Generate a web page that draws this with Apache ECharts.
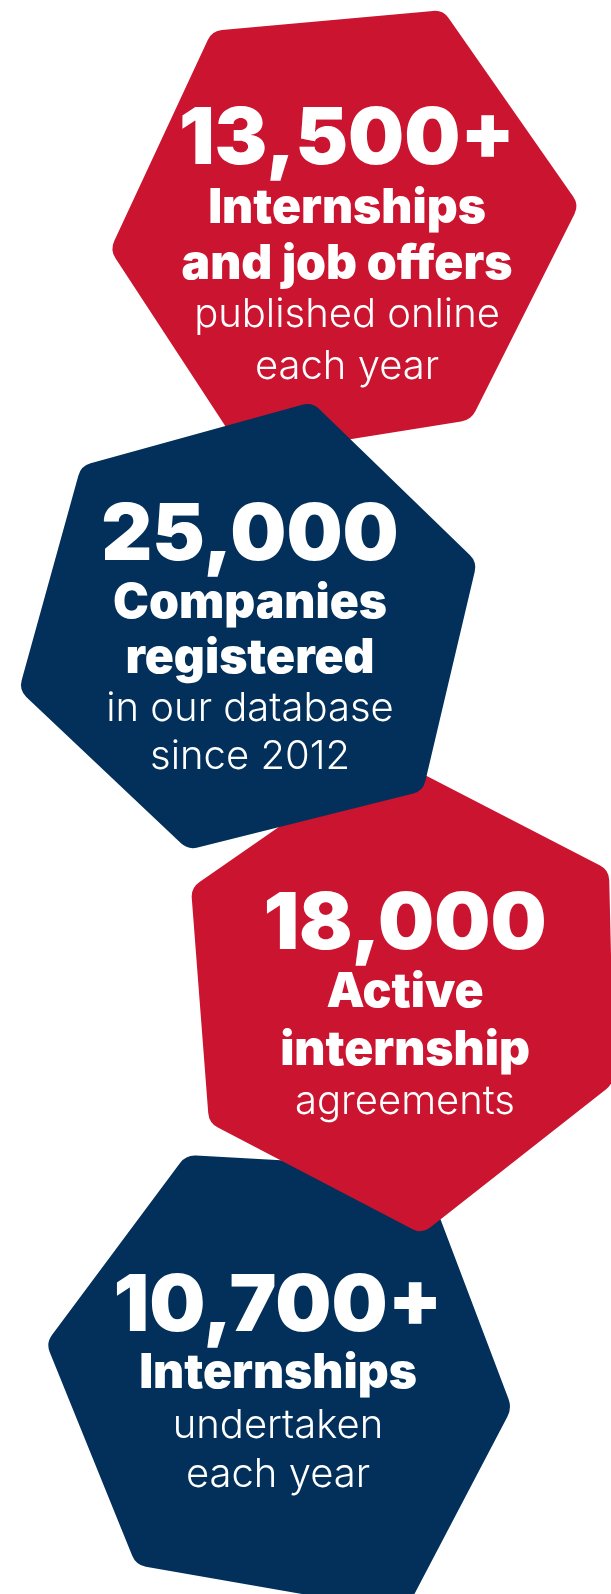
<!DOCTYPE html>
<html>
<head>
<meta charset="utf-8">
<script src="https://cdn.jsdelivr.net/npm/echarts@6/dist/echarts.min.js"></script>
<style>
  html, body { margin: 0; padding: 0; background: #ffffff; }
  #chart { width: 611px; height: 1594px; }
</style>
</head>
<body>
<div id="chart"></div>
<script>
// ---- data ----
const stats = ['13,500+', '25,000', '18,000', '10,700+'];
const titles = [
  ['Internships', 'and job offers'],
  ['Companies', 'registered'],
  ['Active', 'internship'],
  ['Internships']
];
const captions = [
  ['published online', 'each year'],
  ['in our database', 'since 2012'],
  ['agreements'],
  ['undertaken', 'each year']
];

// ---- layout (positions in canvas-like data space) ----
const hexShapes = [
  [[212, 31], [443, 10], [579, 205], [471, 420], [245, 456], [110, 250]],
  [[312, 402], [477, 562], [423, 791], [188, 850], [19, 690], [81, 466]],
  [[384, 754], [609, 870], [614, 1083], [422, 1234], [209, 1123], [191, 888]],
  [[186, 1155], [421, 1168], [512, 1408], [405, 1612], [136, 1565], [46, 1343]]
];
const drawOrder = [0, 3, 2, 1];
const textCenters = [347, 250, 405, 278];
const lineYs = [
  [135, 206, 262, 313, 365],
  [531, 601, 656, 707, 755],
  [920, 990, 1048, 1100],
  [1302, 1371, 1424, 1473]
];

// ---- styles ----
const RED = '#CB1430';
const BLUE = '#02305A';
const shapeColors = [RED, BLUE, RED, BLUE];
const HEAVY = 'Inter';
const LIGHT = 'Inter';

function roundedPath(pts, r) {
  const n = pts.length;
  let d = '';
  for (let i = 0; i < n; i++) {
    const p = pts[i], prev = pts[(i - 1 + n) % n], next = pts[(i + 1) % n];
    const v1 = [prev[0] - p[0], prev[1] - p[1]];
    const v2 = [next[0] - p[0], next[1] - p[1]];
    const l1 = Math.hypot(v1[0], v1[1]), l2 = Math.hypot(v2[0], v2[1]);
    const a = [p[0] + v1[0] / l1 * r, p[1] + v1[1] / l1 * r];
    const b = [p[0] + v2[0] / l2 * r, p[1] + v2[1] / l2 * r];
    d += (i === 0 ? 'M' : 'L') + a[0].toFixed(2) + ' ' + a[1].toFixed(2) + ' ';
    d += 'Q' + p[0].toFixed(2) + ' ' + p[1].toFixed(2) + ' ' + b[0].toFixed(2) + ' ' + b[1].toFixed(2) + ' ';
  }
  return d + 'Z';
}

const chart = echarts.init(document.getElementById('chart'), null, { renderer: 'canvas' });

const option = {
  backgroundColor: '#ffffff',
  animation: false,
  grid: { left: 0, right: 0, top: 0, bottom: 0 },
  xAxis: { type: 'value', min: 0, max: 611, show: false },
  yAxis: { type: 'value', min: 0, max: 1594, inverse: true, show: false },
  series: [
    {
      type: 'custom',
      coordinateSystem: 'cartesian2d',
      clip: false,
      data: drawOrder.map(i => [i]),
      renderItem: function (params, api) {
        const idx = api.value(0);
        const pts = hexShapes[idx].map(p => api.coord(p));
        return {
          type: 'path',
          shape: { pathData: roundedPath(pts, 10) },
          style: { fill: shapeColors[idx] }
        };
      }
    },
    {
      type: 'custom',
      coordinateSystem: 'cartesian2d',
      clip: false,
      data: stats.map((s, i) => [i]),
      renderItem: function (params, api) {
        const idx = api.value(0);
        const lines = [];
        lines.push({ text: stats[idx], size: 79, weight: 900, family: HEAVY, dy: 5 });
        titles[idx].forEach(t => lines.push({ text: t, size: 48, weight: 900, family: HEAVY, dy: 3 }));
        captions[idx].forEach(t => lines.push({ text: t, size: 40, weight: 300, family: LIGHT, dy: 2 }));
        const children = lines.map((ln, k) => {
          const pt = api.coord([textCenters[idx], lineYs[idx][k]]);
          return {
            type: 'text',
            x: pt[0],
            y: pt[1] + ln.dy,
            style: {
              text: ln.text,
              fill: '#ffffff',
              fontSize: ln.size,
              fontWeight: ln.weight,
              fontFamily: ln.family,
              align: 'center',
              verticalAlign: 'middle'
            }
          };
        });
        return { type: 'group', children: children };
      }
    }
  ]
};
chart.setOption(option);
</script>
</body>
</html>
